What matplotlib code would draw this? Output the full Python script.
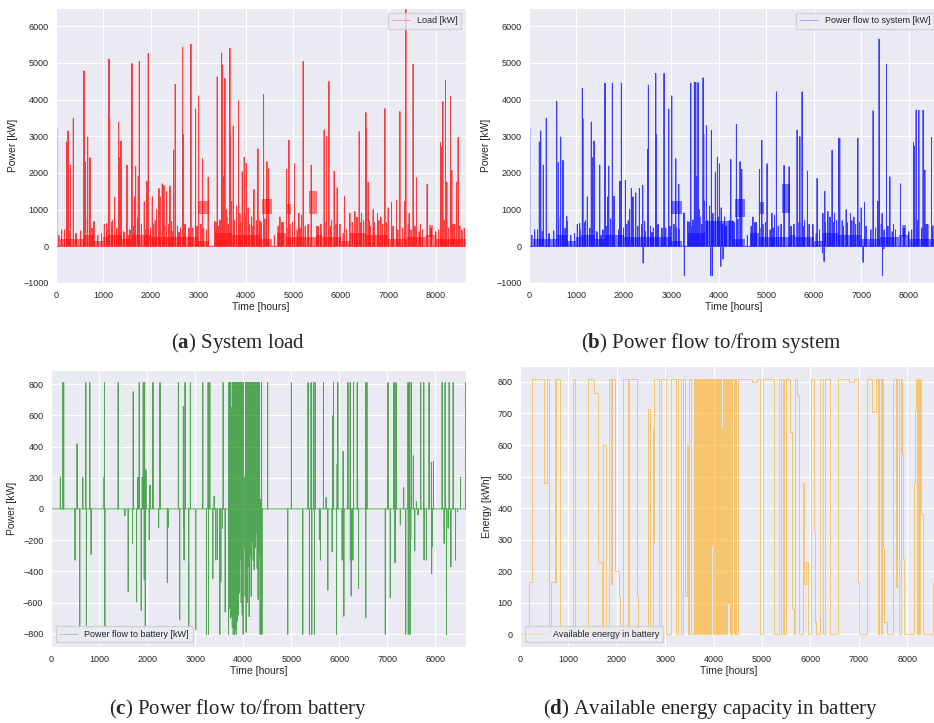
import numpy as np
import matplotlib
matplotlib.use('Agg')
import matplotlib.pyplot as plt
import seaborn as sns

sns.set_style('darkgrid')
plt.rcParams['font.family'] = ['Liberation Sans', 'DejaVu Sans']
plt.rcParams['mathtext.fontset'] = 'custom'
plt.rcParams['mathtext.rm'] = 'Liberation Serif'
plt.rcParams['mathtext.bf'] = 'Liberation Serif:bold'

N_HOURS = 8636

# (a) system load: tall peaks, mid-level peaks, low peaks, dense base band, plateaus
load_peak_hours = [14, 225, 253, 302, 365, 590, 618, 667, 716, 1116, 1130, 1235, 1319, 1333, 1369, 1495, 1600, 1677,
                   1733, 1755, 1860, 1916, 1944, 2028, 2169, 2239, 2274, 2330, 2400, 2477, 2512, 2667, 2674, 2842,
                   2940, 3004, 3088, 3207, 3397, 3488, 3509, 3537, 3558, 3663, 3670, 3734, 3846, 3923, 3965, 4007,
                   4169, 4253, 4372, 4442, 4478, 4856, 4906, 5025, 5207, 5376, 5649, 5699, 5748, 5860, 5923, 6078,
                   6387, 6527, 6541, 6576, 6927, 7172, 7243, 7369, 7523, 7593, 7818, 8099, 8127, 8148, 8204, 8232,
                   8309, 8337, 8436, 8471]
load_peak_vals = [3210, 2845, 3146, 2216, 3493, 4787, 2298, 2982, 2416, 5107, 3483, 1340, 3374, 2416, 2872, 2216, 4988,
                  2189, 1915, 5043, 1213, 1778, 5262, 1350, 1578, 1705, 1660, 1505, 1641, 2626, 4414, 5426, 3055, 5517,
                  3739, 4104, 2389, 1888, 4623, 5271, 4943, 1900, 4578, 5398, 3055, 3283, 3967, 2034, 2435, 2262,
                  1550, 2663, 4140, 2307, 2116, 2097, 2891, 2252, 5043, 2216, 3173, 2991, 4496, 2052, 1596, 1368,
                  3128, 3648, 3210, 1751, 3757, 1249, 3675, 6474, 4970, 1869, 1687, 2827, 2717, 3948, 4532, 1751,
                  4085, 2070, 1751, 2964]
mid_hours = [119, 421, 800, 1018, 1067, 1179, 1432, 1558, 1663, 2056, 2119, 2190, 2435, 2590, 2716, 2800, 3053, 3348,
             3453, 3590, 3698, 3804, 3874, 4049, 4120, 4295, 4716, 4786, 4927, 5116, 5172, 5488, 5664, 5804, 5979,
             6190, 6295, 6436, 6597, 6681, 6772, 6843, 6997, 7067, 7348, 7439, 7678, 8366, 8506]
mid_vals = [450, 350, 680, 600, 620, 660, 380, 450, 1350, 600, 1000, 1350, 680, 380, 570, 500, 600, 680, 720, 1000,
            1230, 1100, 900, 1050, 800, 700, 800, 650, 600, 900, 850, 550, 650, 700, 600, 900, 950, 900, 700, 1000,
            900, 800, 1050, 1200, 1230, 900, 600, 600, 560]
low_hours = [60, 180, 280, 420, 520, 660, 760, 880, 960, 1070, 1190, 1280, 1420, 1520, 1640, 1720, 1800, 1890, 1990,
             2090, 2200, 2290, 2370, 2450, 2560, 2620, 2720, 2790, 2880, 2970, 3110, 3170, 3380, 3430, 3480, 3600,
             3640, 3760, 3890, 3990, 4080, 4150, 4220, 4320, 4400, 4600, 4680, 4760, 4890, 4980, 5080, 5140, 5250,
             5310, 5520, 5580, 5700, 5790, 5900, 5980, 6050, 6120, 6240, 6340, 6420, 6480, 6620, 6700, 6800, 6880,
             6960, 7100, 7200, 7300, 7420, 7480, 7560, 7650, 7720, 7900, 8000, 8060, 8180, 8270, 8400, 8550, 8600]
low_vals = [300, 450, 400, 350, 420, 800, 500, 300, 350, 450, 700, 500, 400, 300, 550, 750, 600, 450, 500,
            700, 450, 550, 600, 400, 550, 500, 600, 450, 500, 550, 500, 450, 650, 550, 700, 800,
            600, 700, 650, 800, 600, 550, 700, 650, 750, 300, 550, 650, 500, 650, 450, 500, 550,
            600, 550, 600, 650, 550, 600, 500, 350, 450, 650, 800, 650, 700, 550, 650, 700, 600,
            650, 550, 450, 500, 600, 450, 550, 400, 450, 500, 400, 450, 700, 500, 600, 450, 500]
band_edges = [0, 90, 600, 800, 1000, 1100, 1400, 1600, 2000, 2500, 3000, 3230, 3350, 3700, 4300, 4550, 4650, 4850,
              4950, 5300, 5500, 5600, 6000, 6200, 6500, 7000, 7400, 7800, 8000]
load_band_top = [0, 200, 300, 150, 250, 300, 200, 300, 250, 250, 150, 0, 350, 300, 200, 0, 350, 250, 250, 250, 300,
                 250, 150, 350, 300, 200, 250, 300, 200]
plateau_start = [3000, 4330, 4860, 5330, 7850]
plateau_end = [3230, 4540, 4950, 5500, 7950]
load_plateau_low = [870, 880, 880, 880, 250]
load_plateau_high = [1235, 1300, 1150, 1500, 580]

# (b) power flow to system
sys_peak_hours = [14, 218, 246, 302, 365, 583, 618, 667, 716, 794, 1124, 1135, 1229, 1313, 1333, 1370, 1489, 1601,
                  1679, 1756, 1791, 1916, 1946, 2030, 2156, 2248, 2325, 2395, 2500, 2515, 2669, 2680, 2845, 2943,
                  3006, 3091, 3154, 3265, 3407, 3484, 3512, 3537, 3561, 3667, 3680, 3737, 3842, 3926, 3969, 4011,
                  4250, 4369, 4446, 4481, 4854, 4903, 5015, 5212, 5373, 5479, 5648, 5704, 5753, 5865, 6069, 6230,
                  6385, 6525, 6545, 6926, 7249, 7375, 7530, 7600, 7825, 8099, 8120, 8155, 8211, 8302, 8337, 8478]
sys_peak_vals = [3210, 2845, 3146, 2216, 3493, 3958, 2280, 2982, 2344, 820, 4304, 3483, 1350, 3392, 2416, 2872, 2216,
                 4450, 2189, 4450, 1368, 1778, 4450, 1796, 1578, 1459, 1578, 1660, 2645, 4395, 4714, 3055, 4714, 3739,
                 4104, 2389, 1687, 912, 4450, 4468, 4468, 1900, 4468, 4596, 3055, 3301, 3164, 2024, 2435, 2252,
                 2371, 3328, 2307, 2097, 2097, 2891, 2252, 4213, 2207, 2170, 3173, 2991, 4213, 2052, 1851, 1505,
                 2617, 2946, 2946, 2946, 3693, 5654, 4970, 1897, 1705, 2827, 2736, 3711, 3711, 3711, 2079, 2964]
sys_dip_hours = [2405, 3273, 3828, 3863, 4039, 4088, 6181, 6216, 7038, 7445, 7473]
sys_dip_vals = [-456, -802, -802, -802, -547, -347, -182, -410, -438, -802, -73]
sys_band_top = [0, 200, 300, 150, 250, 300, 200, 300, 250, 250, 150, 0, 350, 700, 200, 0, 350, 250, 250, 250, 300,
                250, 150, 350, 300, 200, 250, 300, 200]
sys_plateau_low = [870, 800, 880, 900, 250]
sys_plateau_high = [1235, 1300, 1200, 1700, 580]

# (c) power flow to battery
batt_up_hours = [195, 250, 264, 543, 661, 724, 807, 1105, 1113, 1398, 1711, 1809, 1837, 1899, 1920, 1948, 1976,
                 2059, 2122, 2268, 2651, 2755, 2790, 2901, 3158, 3270, 3305, 3395, 3583, 4508, 5002, 5350, 5413,
                 5461, 5496, 5670, 5726, 5865, 5879, 5955, 5969, 6080, 6178, 6226, 6296, 6373, 6380, 6546, 6560,
                 6574, 7006, 7013, 7138, 7180, 7339, 7430, 7465, 7500, 7541, 7604, 7694, 7757, 7868, 7917, 7959,
                 8140, 8202, 8286, 8369, 8522, 8633]
batt_up_vals = [204, 810, 810, 418, 204, 810, 810, 204, 810, 810, 751, 204, 810, 204, 810, 810, 251,
                154, 810, 810, 810, 658, 810, 810, 810, 810, 810, 80, 810, 810, 810, 810, 810,
                810, 810, 810, 73, 598, 810, 290, 810, 369, 810, 810, 810, 810, 204, 810, 187,
                810, 204, 810, 810, 810, 137, 810, 810, 810, 341, 49, 810, 810, 810, 298, 305,
                810, 810, 810, 810, 204, 810]
batt_down_hours = [501, 598, 737, 835, 1120, 1537, 1607, 1697, 1781, 1878, 1941, 1962, 2045, 2240, 2421, 2435, 2678,
                   2760, 2769, 2866, 3012, 3235, 3277, 3367, 3430, 3465, 3513, 3534, 3569, 3625, 4390, 4926, 5239,
                   5378, 5426, 5482, 5586, 5607, 5760, 5851, 5941, 6059, 6094, 6230, 6247, 6282, 6400, 6550, 6957,
                   7061, 7159, 7270, 7381, 7435, 7472, 7486, 7569, 7639, 7764, 7813, 7921, 7938, 8181, 8230, 8265,
                   8321, 8418, 8460]
batt_down_vals = [-328, -757, -768, -292, -757, -43, -532, -223, -596, -650, -450, -757, -199, -118, -472, -118, -710,
                  -114, -328, -757, -774, -804, -804, -446, -328, -324, -804, -468, -124, -661, -804, -804, -804,
                  -804, -804, -804, -199, -328, -521, -274, -804, -328, -688, -328, -558, -328, -510, -697, -804,
                  -568, -345, -103, -804, -804, -804, -199, -268, -39, -328, -328, -414, -242, -221, -804, -124,
                  -371, -328, -17]
# busy stretch around hours 3700-4400
busy_up_hours = [3700, 3720, 3741, 3760, 3781, 3801, 3822, 3842, 3863, 3884, 3904, 3925, 3945, 3966, 3987, 4007,
                 4028, 4049, 4069, 4090, 4111, 4132, 4153, 4174, 4194, 4215, 4236, 4257, 4278, 4298, 4319, 4340,
                 4362, 4382]
busy_up_vals = [810, 810, 810, 650, 810, 810, 810, 810, 810, 810, 810, 810, 810, 810, 810, 810, 200,
                810, 810, 810, 810, 810, 810, 810, 810, 810, 810, 810, 810, 810, 810, 810, 60, 810]
busy_down_hours = [3694, 3712, 3733, 3752, 3773, 3793, 3814, 3834, 3855, 3876, 3896, 3917, 3937, 3958, 3979, 3999,
                   4020, 4041, 4061, 4082, 4103, 4124, 4145, 4166, 4186, 4207, 4228, 4249, 4270, 4290, 4311, 4332,
                   4352, 4375]
busy_down_vals = [-804, -640, -700, -690, -760, -804, -804, -780, -804, -720, -680, -540, -320, -600, -680, -804,
                  -250, -560, -790, -600, -370, -690, -300, -560, -210, -330, -390, -250, -150, -380, -580, -300,
                  -804, -120]

# (d) available energy in battery (level changes)
soc_hours = [0, 193, 250, 500, 560, 605, 640, 725, 735, 750, 835, 1105, 1140, 1397, 1520, 1605, 1694, 1715, 1770, 1830,
             1880, 1900, 1960, 2050, 2060, 2127, 2224, 2240, 2258, 2417, 2440, 2650, 2692, 2747, 2755, 2768, 2878,
             2912, 3016, 3119, 3222, 3270, 3325, 3366, 3372, 3408, 3440, 3480, 3497, 3532,
             3600, 3620, 3640, 3655, 3675, 3690, 3700, 3715, 3728, 3742, 3755, 3768, 3780, 3795, 3808, 3820, 3835,
             3848, 3860, 3872, 3885, 3898, 3910, 3922, 3935, 3948, 3960, 3972, 3985, 3998, 4010, 4025, 4040, 4052,
             4065, 4078, 4090, 4103, 4118, 4130, 4145, 4158, 4170, 4185, 4200, 4215, 4228, 4240, 4255, 4270, 4285,
             4300, 4318, 4335, 4350, 4370, 4390, 4420, 4440, 4460,
             4496, 4800, 4900, 4964, 5019, 5240, 5357, 5392, 5426, 5461, 5495, 5577, 5618, 5652, 5690, 5730, 5769,
             5852, 5873, 5910, 5942, 6011, 6080, 6095, 6114, 6203, 6265, 6300, 6403, 6561, 6575, 6800, 6900, 6974,
             7000, 7160, 7270, 7353, 7401, 7425, 7455, 7480, 7500, 7530, 7586, 7697, 7766, 7787, 7835, 7870, 7900,
             7918, 7938, 8145, 8165, 8180, 8200, 8215, 8240, 8260, 8283, 8318, 8524]
soc_levels = [0, 165, 810, 480, 810, 0, 165, 810, 165, 810, 0, 810, 0, 810, 765, 230, 0, 600, 0, 810,
              160, 810, 200, 120, 0, 810, 360, 0, 810, 120, 0, 715, 0, 650, 290, 810, 0,
              810, 0, 810, 0, 810, 0, 60, 810, 120, 600, 0, 810, 0,
              810, 0, 810, 0, 810, 650, 0, 810, 0, 810, 0, 810, 0, 810, 0, 810, 0,
              810, 0, 810, 0, 810, 160, 810, 0, 810, 280, 810, 0, 810, 0, 810, 650, 0,
              810, 0, 810, 0, 810, 0, 810, 650, 0, 810, 0, 810, 160, 0, 810, 0, 810,
              100, 810, 0, 810, 0, 810, 0, 810, 0,
              810, 800, 810, 0, 810, 0, 810, 0, 810, 0, 810, 640, 80, 0, 810, 760, 0,
              480, 160, 230, 0, 810, 330, 40, 0, 810, 0, 810, 0, 260, 810, 800, 810, 165,
              0, 810, 705, 810, 0, 810, 0, 810, 275, 40, 0, 810, 150, 810, 0, 810, 570,
              240, 0, 480, 710, 810, 0, 810, 0, 810, 380, 0, 165]


def hourly(hours_lists, vals_lists):
    s = np.zeros(N_HOURS)
    for h, v in zip(hours_lists, vals_lists):
        s[np.array(h)] = v
    return s


W, H = 934, 723
fig = plt.figure(figsize=(W / 100, H / 100), dpi=100)


def px_axes(left, top, right, bottom):
    return fig.add_axes([left / W, 1 - bottom / H, (right - left) / W, (bottom - top) / H])


def style(ax, ylabel):
    ax.set_xlabel('Time [hours]', fontsize=7.5, labelpad=2)
    ax.set_ylabel(ylabel, fontsize=7.5, labelpad=4)
    ax.tick_params(labelsize=6.5, pad=2)
    ax.set_xticks(range(0, 8001, 1000))


def band(ax, top, low, high, color):
    edges = band_edges + [N_HOURS]
    ax.fill_between(edges, 0, top + [top[-1]], step='post', color=color, alpha=0.5, lw=0)
    for s, e, lo, hi in zip(plateau_start, plateau_end, low, high):
        ax.fill_between([s, e], lo, hi, color=color, alpha=0.5, lw=0)


hrs = np.arange(N_HOURS)
LW = 0.7

# (a)
ax = px_axes(56, 8, 466, 283)
band(ax, load_band_top, load_plateau_low, load_plateau_high, 'red')
ax.plot(hrs, hourly([load_peak_hours, mid_hours, low_hours], [load_peak_vals, mid_vals, low_vals]),
        color='red', alpha=0.75, lw=LW, label='Load [kW]')
ax.set_xlim(0, N_HOURS)
ax.set_ylim(-1000, 6500)
style(ax, 'Power [kW]')
leg = ax.legend(loc='upper right', fontsize=6.5)
leg.get_lines()[0].set_alpha(0.3)

# (b)
ax = px_axes(529, 8, 939, 283)
band(ax, sys_band_top, sys_plateau_low, sys_plateau_high, 'blue')
ax.plot(hrs, hourly([sys_peak_hours, mid_hours, low_hours, sys_dip_hours],
                    [sys_peak_vals, mid_vals, low_vals, sys_dip_vals]),
        color='blue', alpha=0.75, lw=LW, label='Power flow to system [kW]')
ax.set_xlim(0, N_HOURS)
ax.set_ylim(-1000, 6500)
style(ax, 'Power [kW]')
leg = ax.legend(loc='upper right', fontsize=6.5)
leg.get_lines()[0].set_alpha(0.3)

# (c)
ax = px_axes(51, 370, 466, 647)
ax.plot(hrs, hourly([batt_up_hours, batt_down_hours, busy_up_hours, busy_down_hours],
                    [batt_up_vals, batt_down_vals, busy_up_vals, busy_down_vals]),
        color='green', alpha=0.65, lw=LW, label='Power flow to battery [kW]')
ax.set_xlim(0, N_HOURS)
style(ax, 'Power [kW]')
leg = ax.legend(loc='lower left', fontsize=6.5)
leg.get_lines()[0].set_alpha(0.3)

# (d)
ax = px_axes(520, 366, 938, 647)
ax.plot(soc_hours + [N_HOURS], soc_levels + [soc_levels[-1]], drawstyle='steps-post',
        color='orange', alpha=0.55, lw=LW, label='Available energy in battery')
ax.set_xlim(0, N_HOURS)
style(ax, 'Energy [kWh]')
leg = ax.legend(loc='lower left', fontsize=6.5)
leg.get_lines()[0].set_alpha(0.25)

captions = [(238, 343, r'($\mathbf{a}$) System load'),
            (711, 343, r'($\mathbf{b}$) Power flow to/from system'),
            (238, 709, r'($\mathbf{c}$) Power flow to/from battery'),
            (711, 709, r'($\mathbf{d}$) Available energy capacity in battery')]
for x, y, txt in captions:
    fig.text(x / W, 1 - y / H, txt, ha='center', va='center', fontsize=15, family='Liberation Serif')

fig.savefig('out.png', dpi=100)
